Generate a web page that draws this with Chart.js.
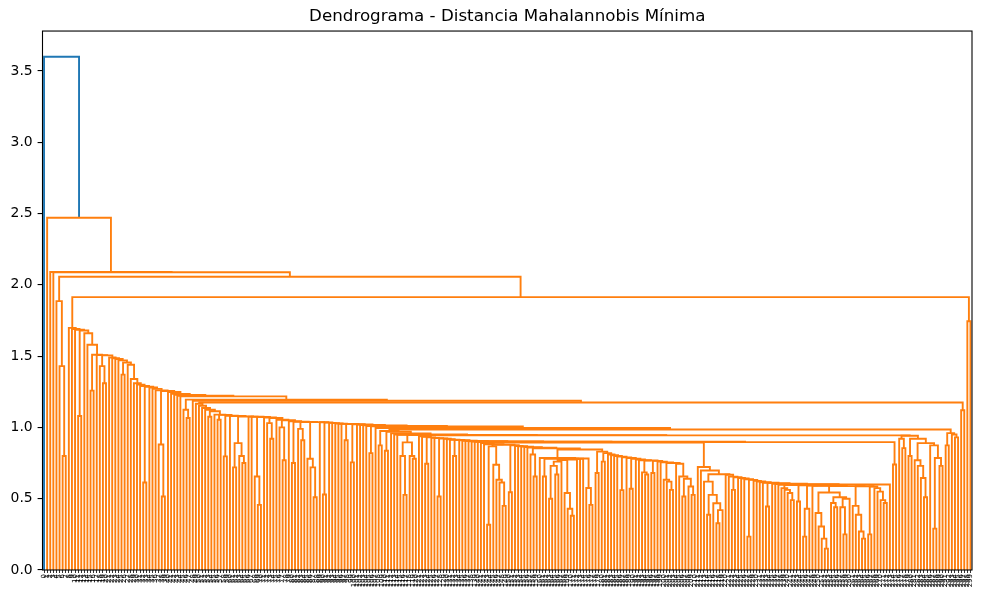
<!DOCTYPE html>
<html lang="es">
<head>
<meta charset="UTF-8">
<title>Dendrograma - Distancia Mahalannobis Mínima</title>
<script src="https://cdn.jsdelivr.net/npm/chart.js"></script>
<style>
  html, body { margin: 0; padding: 0; background: #ffffff; }
  #wrap { width: 983px; height: 603px; }
</style>
</head>
<body>
<div id="wrap"><canvas id="dendro" width="983" height="603"></canvas></div>
<script>
// Height at which each leaf joins its right-hand neighbour (leaf order as drawn).
// The tree is rebuilt from these: the highest gap in a range is the link that splits it.
const topGaps = [3.60, 2.47, 2.09, 2.088, 1.886, 1.43, 0.80, 2.057];
const leftStairGaps = [1.698, 1.69, 1.685, 1.08, 1.68, 1.66, 1.58, 1.258, 1.51, 1.507,
  1.43, 1.31, 1.505, 1.49, 1.485, 1.48, 1.47, 1.37, 1.455, 1.44,
  1.34, 1.31, 1.30, 1.29, 0.614, 1.285, 1.28, 1.27, 1.26, 0.88,
  0.516, 1.255, 1.248, 1.235, 1.228, 1.222, 1.218, 1.124, 1.066, 1.195, 1.187];
const upperMidGaps = [1.166, 1.152, 1.136, 1.124, 1.075, 1.113, 1.09, 1.054, 1.088, 0.797,
  1.082, 1.080, 0.72, 0.89, 0.80, 0.75, 1.077, 1.076, 1.075, 0.656,
  0.457, 1.073, 1.07, 1.03, 0.92, 1.066, 1.054, 1.00, 0.77, 1.05,
  1.043, 0.75, 1.04, 0.99, 0.91, 1.038, 0.78, 0.72, 0.51, 1.037,
  1.036, 0.53, 1.035, 1.032, 1.03, 1.028, 1.026, 1.025, 0.91, 1.024,
  0.755, 1.022, 1.02, 1.017, 1.014, 1.010, 0.82, 1.007, 0.996];
const centreGaps = [0.874, 0.975, 0.836, 0.97, 0.958, 0.950, 0.948, 0.80, 0.527, 0.895,
  0.80, 0.78, 0.946, 0.937, 0.934, 0.745, 0.930, 0.927, 0.925, 0.516,
  0.922, 0.920, 0.917, 0.914, 0.80, 0.912, 0.910, 0.907, 0.905, 0.903,
  0.901, 0.900, 0.899, 0.89, 0.882, 0.317, 0.867, 0.738, 0.633, 0.614,
  0.45, 0.878, 0.545, 0.875, 0.87, 0.868, 0.865, 0.862, 0.858, 0.81,
  0.656, 0.853, 0.785, 0.656, 0.78, 0.50, 0.73, 0.67, 0.76, 0.772,
  0.54, 0.43, 0.38, 0.775, 0.778, 0.78, 0.782, 0.575, 0.457, 0.845,
  0.68, 0.83, 0.76, 0.82, 0.81, 0.805, 0.80, 0.795, 0.56, 0.79,
  0.785, 0.57, 0.78, 0.775, 0.77, 0.685, 0.67, 0.768, 0.68, 0.765,
  0.76, 0.755, 0.633, 0.62, 0.562, 0.75, 0.745, 0.656, 0.516, 0.64,
  0.586, 0.527, 0.893];
const lowClusterGaps = [0.722, 0.698, 0.62, 0.387, 0.527, 0.468, 0.328, 0.42, 0.672, 0.668,
  0.655, 0.562, 0.651, 0.645, 0.642, 0.636, 0.234, 0.632, 0.625, 0.621,
  0.615, 0.612, 0.445, 0.609, 0.605, 0.602, 0.598, 0.574, 0.562, 0.54,
  0.49, 0.596, 0.48, 0.594, 0.234, 0.43, 0.592, 0.59, 0.40, 0.305,
  0.22, 0.15, 0.544, 0.47, 0.44, 0.51, 0.44, 0.25, 0.50, 0.588,
  0.45, 0.387, 0.27, 0.22, 0.587, 0.25, 0.586, 0.574, 0.55, 0.49,
  0.47, 0.60, 0.897];
const rightEndGaps = [0.74, 0.944, 0.921, 0.855, 0.942, 0.80, 0.921, 0.77, 0.73, 0.645,
  0.51, 0.89, 0.874, 0.29, 0.785, 0.73, 0.985, 0.874, 0.96, 0.95,
  0.93, 1.175, 1.12, 1.914, 1.745];

const yTicks = [0, 0.5, 1.0, 1.5, 2.0, 2.5, 3.0, 3.5];

const gapHeights = [].concat(topGaps, leftStairGaps, upperMidGaps, centreGaps, lowClusterGaps, rightEndGaps);
const nLeaves = gapHeights.length + 1;
// leaf names at the bottom are too small to read in the original; numbered in drawing order
const leafLabels = Array.from({ length: nLeaves }, (_, i) => String(i));
const leafPos = Array.from({ length: nLeaves }, (_, i) => 5 + 10 * i);

const links = [];
function build(lo, hi) {
  if (lo === hi) return { x: leafPos[lo], y: 0 };
  let k = lo;
  for (let i = lo; i < hi; i++) if (gapHeights[i] > gapHeights[k]) k = i;
  const a = build(lo, k), b = build(k + 1, hi);
  const h = gapHeights[k];
  links.push({ h, pts: [{ x: a.x, y: a.y }, { x: a.x, y: h }, { x: b.x, y: h }, { x: b.x, y: b.y }] });
  return { x: (a.x + b.x) / 2, y: h };
}
build(0, nLeaves - 1);

const topH = Math.max(...gapHeights);
const threshold = 0.7 * topH;

const datasets = links.map(l => ({
  data: l.pts,
  showLine: true,
  borderColor: l.h > threshold ? '#1f77b4' : '#ff7f0e',
  borderWidth: 1.9,
  pointRadius: 0,
  pointHoverRadius: 0,
  fill: false,
  tension: 0
}));

const frame = {
  id: 'frame',
  afterDraw(chart) {
    const { ctx, chartArea: a } = chart;
    ctx.save();
    ctx.strokeStyle = '#000';
    ctx.lineWidth = 1.1;
    ctx.strokeRect(a.left, a.top, a.right - a.left, a.bottom - a.top);
    ctx.restore();
  }
};

new Chart(document.getElementById('dendro'), {
  type: 'scatter',
  data: { datasets },
  options: {
    responsive: false,
    animation: false,
    devicePixelRatio: 1,
    events: [],
    layout: { padding: { left: 0, right: 11, top: 0, bottom: 0 } },
    plugins: {
      legend: { display: false },
      tooltip: { enabled: false },
      title: {
        display: true,
        text: 'Dendrograma - Distancia Mahalannobis Mínima',
        fullSize: false,
        color: '#000',
        font: { family: 'DejaVu Sans', size: 16.7, weight: 'normal' },
        padding: { top: 7, bottom: 4 }
      }
    },
    scales: {
      x: {
        type: 'linear',
        min: 0,
        max: 10 * nLeaves,
        afterBuildTicks: s => { s.ticks = leafPos.map(v => ({ value: v })); },
        afterFit: s => { s.height = 33; },
        ticks: {
          autoSkip: false,
          minRotation: 90,
          maxRotation: 90,
          padding: 1,
          color: '#000',
          font: { family: 'DejaVu Sans', size: 7 },
          callback: (v, i) => leafLabels[i]
        },
        grid: { drawOnChartArea: false, drawTicks: true, tickLength: 3, color: '#000', tickColor: '#000', lineWidth: 0.8 },
        border: { display: false }
      },
      y: {
        min: 0,
        max: topH * 1.05,
        afterBuildTicks: s => { s.ticks = yTicks.map(v => ({ value: v })); },
        afterFit: s => { s.width = 42.5; },
        ticks: {
          padding: 4.9,
          color: '#000',
          font: { family: 'DejaVu Sans', size: 13.9 },
          callback: v => Number(v).toFixed(1)
        },
        grid: { drawOnChartArea: false, drawTicks: true, tickLength: 4.9, color: '#000', tickColor: '#000', lineWidth: 1.1 },
        border: { display: false }
      }
    }
  },
  plugins: [frame]
});
</script>
</body>
</html>
